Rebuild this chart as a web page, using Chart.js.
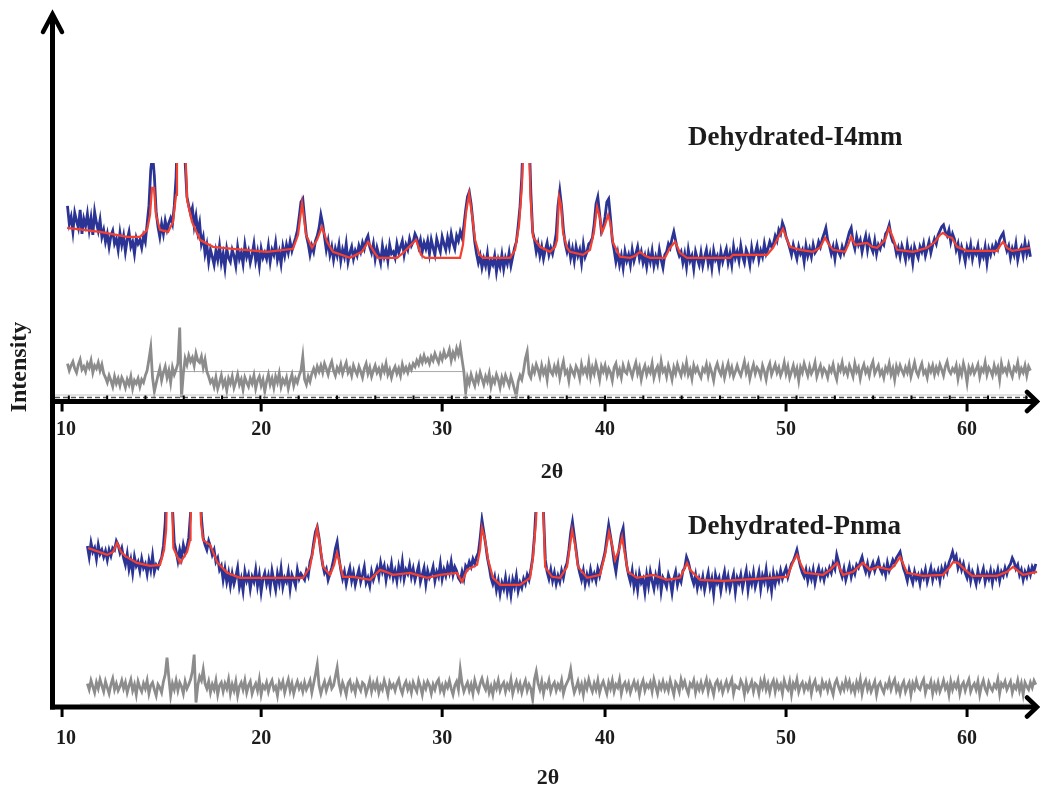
<!DOCTYPE html>
<html>
<head>
<meta charset="utf-8">
<title>Dehydrated I4mm / Pnma refinement</title>
<script src="https://cdn.jsdelivr.net/npm/chart.js@4.4.1/dist/chart.umd.min.js"></script>
<style>
    html, body { margin: 0; padding: 0; background: #fff; }
    #wrap { position: relative; width: 1040px; height: 789px; overflow: hidden; }
    canvas { position: absolute; left: 0; }
    #topChart { top: 0; }
    #bottomChart { top: 490px; }
</style>
</head>
<body>
<div id="wrap">
    <canvas id="topChart" width="1040" height="490"></canvas>
    <canvas id="bottomChart" width="1040" height="299"></canvas>
</div>
<script>
// axis labels (the printed 20 and 30 sit one unit to the right)
const tickValues = [10, 21, 31, 40, 50, 60];
const tickLabels = ["10", "20", "30", "40", "50", "60"];

// scan grid
const stepSize = 0.1;
const i4mmStart = 10.3;
const pnmaStart = 11.4;

// Dehydrated-I4mm : observed, one row per degree
const i4mmObs = [
    196, 178, 185, 170, 189, 181, 174, 192, 168, 183,
    176, 188, 172, 184, 167, 190, 179, 171, 182, 165,
    172, 160, 168, 155, 166, 171, 158, 163, 152, 169,
    157, 166, 150, 162, 170, 155, 160, 148, 164, 158,
    162, 154, 166, 160, 178, 196, 232, 248, 226, 190,
    175, 165, 178, 168, 181, 172, 179, 184, 178, 196,
    225, 290, 345, 350, 300, 240, 205, 196, 188, 194,
    176, 186, 170, 179, 158, 165, 148, 157, 140, 152,
    145, 137, 151, 142, 156, 139, 148, 134, 153, 144,
    140, 152, 146, 136, 155, 143, 149, 138, 157, 145,
    151, 139, 147, 158, 141, 150, 136, 153, 144, 149,
    143, 156, 140, 152, 147, 159, 142, 150, 138, 155,
    146, 157, 149, 160, 151, 158, 164, 171, 185, 200,
    203, 184, 166, 158, 147, 156, 150, 161, 166, 174,
    187, 178, 165, 152, 161, 147, 155, 142, 153, 146,
    157, 141, 152, 145, 158, 140, 149, 155, 143, 151,
    146, 156, 150, 159, 153, 162, 166, 155, 149, 158,
    143, 154, 147, 139, 156, 145, 152, 141, 157, 148,
    150, 144, 158, 149, 155, 161, 147, 157, 152, 163,
    156, 160, 168, 164, 155, 162, 150, 159, 153, 161,
    148, 162, 154, 147, 163, 156, 150, 165, 158, 152,
    164, 155, 168, 159, 153, 166, 161, 170, 164, 176,
    192, 205, 210, 198, 180, 160, 148, 139, 146, 134,
    143, 136, 148, 131, 141, 137, 146, 130, 142, 135,
    147, 133, 144, 138, 149, 136, 145, 154, 160, 176,
    195, 225, 280, 330, 350, 270, 210, 170, 162, 150,
    158, 146, 155, 143, 152, 159, 147, 154, 148, 157,
    168, 196, 211, 195, 172, 158, 150, 157, 144, 153,
    141, 155, 146, 152, 139, 157, 145, 150, 158, 160,
    164, 178, 198, 205, 188, 170, 174, 185, 200, 203,
    184, 162, 152, 140, 149, 137, 146, 134, 150, 141,
    147, 137, 152, 141, 148, 155, 143, 150, 139, 146,
    135, 148, 140, 151, 136, 145, 138, 152, 142, 134,
    147, 150, 158, 154, 163, 170, 161, 152, 146, 150,
    139, 148, 135, 152, 141, 146, 133, 150, 143, 137,
    149, 136, 145, 152, 138, 147, 134, 151, 142, 146,
    135, 150, 140, 147, 153, 139, 148, 137, 155, 144,
    150, 141, 156, 145, 139, 152, 147, 137, 154, 143,
    149, 156, 142, 151, 145, 158, 148, 153, 160, 155,
    158, 166, 161, 172, 168, 179, 174, 165, 160, 154,
    147, 157, 150, 143, 155, 148, 152, 140, 156, 146,
    153, 145, 157, 149, 152, 160, 155, 163, 168, 174,
    162, 156, 148, 155, 143, 157, 150, 146, 155, 149,
    156, 163, 170, 174, 160, 153, 165, 157, 162, 150,
    159, 166, 152, 163, 155, 150, 161, 148, 157, 153,
    160, 157, 168, 171, 177, 166, 160, 158, 148, 154,
    145, 156, 150, 142, 157, 146, 152, 139, 155, 149,
    144, 155, 150, 158, 146, 153, 160, 149, 157, 163,
    158, 167, 171, 175, 177, 170, 166, 172, 160, 168,
    163, 152, 158, 145, 155, 149, 140, 154, 147, 157,
    143, 152, 148, 156, 141, 150, 145, 155, 139, 153,
    147, 155, 150, 158, 153, 162, 166, 169, 158, 151,
    156, 144, 153, 147, 158, 142, 151, 155, 146, 159,
    148, 156, 145
];

// Dehydrated-I4mm : difference (offset below the pattern)
const i4mmDiff = [
    38, 31, 36, 40, 33, 29, 37, 42, 32, 35,
    30, 38, 34, 41, 29, 36, 33, 39, 31, 37,
    28, 24, 19, 26, 21, 15, 25, 18, 23, 16,
    24, 20, 14, 22, 17, 25, 13, 21, 18, 23,
    15, 22, 19, 26, 31, 42, 54, 24, 10, 18,
    26, 33, 21, 29, 35, 24, 31, 19, 34, 27,
    32, 38, 74, 4, 28, 43, 37, 46, 40, 44,
    36, 48, 41, 39, 45, 34, 42, 30, 25, 19,
    22, 15, 24, 13, 19, 26, 16, 21, 11, 23,
    18, 25, 14, 20, 27, 17, 22, 12, 24, 19,
    15, 23, 18, 26, 13, 21, 25, 16, 22, 10,
    20, 27, 17, 23, 14, 25, 19, 28, 15, 22,
    18, 24, 13, 21, 27, 16, 23, 19, 26, 31,
    45, 22, 17, 25, 20, 28, 33, 27, 35, 30,
    36, 29, 38, 33, 27, 35, 40, 31, 26, 34,
    30, 37, 28, 34, 39, 29, 33, 26, 36, 31,
    27, 35, 30, 24, 33, 38, 28, 34, 25, 31,
    36, 29, 33, 26, 35, 30, 38, 27, 32, 24,
    31, 35, 28, 33, 26, 37, 30, 34, 29, 36,
    32, 38, 35, 41, 37, 44, 39, 46, 40, 43,
    38, 45, 41, 48, 43, 39, 47, 42, 50, 44,
    46, 52, 41, 49, 44, 53, 47, 55, 42, 30,
    9, 24, 18, 27, 21, 16, 26, 20, 29, 23,
    17, 25, 20, 28, 15, 23, 19, 27, 22, 14,
    24, 18, 26, 21, 16, 25, 19, 12, 5, 20,
    26, 22, 31, 43, 50, 28, 24, 34, 29, 37,
    32, 25, 36, 28, 33, 22, 38, 30, 27, 35,
    29, 37, 24, 33, 40, 28, 31, 21, 34, 30,
    26, 35, 31, 23, 37, 29, 33, 27, 39, 25,
    34, 28, 38, 31, 22, 35, 30, 36, 26, 33,
    29, 21, 34, 38, 27, 32, 24, 36, 30, 28,
    37, 31, 25, 33, 39, 28, 34, 22, 31, 36,
    27, 33, 29, 38, 24, 31, 35, 26, 40, 30,
    33, 25, 36, 30, 22, 34, 28, 37, 31, 26,
    35, 29, 39, 27, 32, 23, 36, 30, 34, 28,
    24, 33, 30, 37, 26, 35, 29, 21, 33, 38,
    31, 27, 35, 24, 32, 38, 28, 34, 25, 30,
    36, 30, 26, 33, 40, 29, 35, 23, 31, 37,
    28, 34, 31, 25, 36, 30, 22, 33, 38, 27,
    32, 37, 29, 34, 26, 31, 39, 28, 35, 24,
    30, 36, 27, 33, 21, 34, 29, 38, 32, 26,
    35, 28, 32, 39, 25, 31, 36, 27, 33, 30,
    24, 34, 30, 37, 28, 22, 35, 31, 39, 29,
    33, 27, 36, 31, 25, 38, 30, 34, 23, 32,
    37, 29, 33, 26, 35, 40, 28, 32, 36, 27,
    31, 24, 34, 30, 38, 27, 33, 22, 35, 29,
    36, 31, 27, 34, 29, 37, 25, 32, 39, 30,
    26, 33, 38, 28, 31, 24, 35, 30, 36, 27,
    34, 29, 37, 32, 26, 35, 40, 31, 28, 33,
    30, 36, 23, 33, 27, 38, 31, 19, 34, 29,
    35, 28, 32, 37, 25, 33, 30, 39, 27, 34,
    31, 26, 36, 29, 34, 22, 38, 30, 33, 28,
    37, 30, 25, 34, 31, 39, 27, 33, 29, 36,
    26, 35, 31
];

// Dehydrated-I4mm : calculated profile
const i4mmCalc2T = [
    10.28, 12.10, 13.59, 14.31, 14.70, 14.86, 14.97, 15.08, 15.19, 15.41,
    15.86, 16.13, 16.30, 16.35, 16.57, 16.80, 16.91, 17.18, 17.62, 18.34,
    19.45, 21.33, 22.76, 23.04, 23.26, 23.48, 23.81, 24.09, 24.36, 24.64,
    24.97, 25.75, 25.91, 26.57, 26.91, 27.24, 27.46, 28.51, 28.84, 29.23,
    29.56, 29.83, 30.06, 31.99, 32.15, 32.32, 32.49, 32.65, 32.82, 33.04,
    33.26, 34.75, 35.03, 35.25, 35.41, 35.47, 35.66, 35.80, 35.88, 36.02,
    36.41, 36.96, 37.24, 37.35, 37.46, 37.57, 37.68, 37.90, 38.07, 38.78,
    39.17, 39.39, 39.56, 39.72, 39.83, 40.00, 40.17, 40.28, 40.44, 40.83,
    41.38, 41.66, 41.93, 42.21, 42.49, 43.31, 43.59, 43.87, 44.14, 44.53,
    46.91, 47.07, 48.95, 49.28, 49.56, 49.83, 50.06, 50.22, 50.77, 51.49,
    51.88, 52.15, 52.38, 52.60, 53.26, 53.43, 53.60, 53.81, 54.09, 54.48,
    54.75, 55.03, 55.47, 55.69, 55.91, 56.13, 57.02, 57.79, 58.23, 58.51,
    58.67, 58.95, 59.17, 59.45, 60.00, 61.66, 61.82, 61.99, 62.21, 62.49,
    63.48
];
const i4mmCalc = [
    174, 170, 165, 165, 172, 187, 214, 214, 187, 172,
    170, 180, 207, 260, 330, 260, 202, 180, 162, 155,
    153, 150, 153, 167, 199, 167, 154, 162, 175, 160,
    150, 145, 144, 150, 160, 150, 144, 144, 149, 156,
    162, 147, 144, 144, 157, 189, 208, 187, 162, 148,
    144, 144, 152, 177, 217, 250, 320, 260, 205, 165,
    155, 150, 155, 162, 205, 197, 169, 154, 150, 147,
    152, 170, 195, 184, 169, 177, 187, 180, 159, 145,
    144, 146, 150, 146, 144, 144, 154, 160, 149, 144,
    144, 147, 147, 154, 164, 173, 162, 155, 152, 150,
    154, 164, 157, 152, 150, 157, 165, 157, 158, 159,
    155, 154, 162, 174, 164, 152, 150, 154, 160, 167,
    169, 165, 164, 155, 151, 151, 156, 160, 154, 151,
    154
];

// Dehydrated-Pnma : observed, one row per degree
const pnmaObs = [
    162, 151, 165, 156, 160, 149, 163, 154, 158, 151,
    157, 148, 158, 152, 160, 158, 167, 163, 155, 160,
    150, 143, 154, 139, 148, 135, 151, 142, 146, 137,
    149, 140, 144, 134, 147, 138, 152, 136, 143, 140,
    146, 150, 162, 185, 240, 290, 270, 200, 165, 157,
    147, 158, 150, 163, 155, 161, 170, 195, 270, 330,
    340, 310, 250, 190, 170, 163, 158, 167, 161, 153,
    158, 146, 150, 138, 142, 128, 139, 126, 135, 122,
    134, 124, 131, 140, 121, 129, 117, 136, 127, 133,
    119, 131, 126, 138, 122, 133, 116, 129, 135, 124,
    132, 120, 137, 127, 118, 134, 125, 139, 121, 130,
    126, 136, 119, 133, 128, 122, 138, 129, 134, 131,
    128, 137, 132, 146, 152, 165, 176, 181, 170, 155,
    143, 135, 139, 128, 134, 140, 148, 159, 166, 150,
    138, 129, 136, 124, 133, 140, 127, 135, 123, 131,
    138, 126, 133, 141, 125, 130, 122, 136, 128, 134,
    140, 131, 145, 136, 142, 128, 139, 133, 144, 130,
    137, 127, 141, 132, 146, 129, 138, 134, 143, 131,
    139, 128, 135, 142, 126, 133, 140, 124, 137, 130,
    134, 141, 127, 136, 131, 144, 129, 138, 132, 142,
    135, 146, 133, 141, 137, 130, 127, 136, 129, 142,
    139, 146, 141, 149, 144, 151, 155, 170, 188, 176,
    164, 150, 141, 130, 124, 131, 118, 127, 114, 125,
    119, 130, 116, 126, 113, 128, 121, 132, 117, 125,
    120, 129, 124, 133, 128, 138, 150, 172, 205, 270,
    330, 280, 195, 148, 136, 129, 138, 127, 135, 124,
    132, 126, 137, 130, 140, 145, 158, 175, 186, 172,
    158, 143, 135, 128, 137, 124, 133, 126, 138, 129,
    134, 127, 139, 132, 141, 148, 156, 170, 183, 172,
    160, 146, 136, 150, 162, 174, 180, 158, 142, 133,
    126, 137, 121, 131, 118, 134, 125, 129, 116, 133,
    122, 136, 127, 119, 132, 124, 138, 117, 130, 126,
    121, 133, 127, 115, 129, 136, 123, 131, 126, 137,
    140, 151, 146, 138, 130, 124, 133, 120, 129, 122,
    131, 118, 127, 135, 121, 129, 114, 133, 125, 130,
    117, 128, 136, 122, 131, 119, 127, 134, 116, 130,
    125, 133, 120, 129, 137, 118, 131, 124, 135, 121,
    128, 136, 119, 132, 126, 138, 122, 130, 117, 134,
    124, 133, 127, 137, 129, 135, 140, 131, 138, 144,
    147, 152, 158, 149, 141, 135, 131, 138, 127, 136,
    129, 138, 125, 134, 140, 130, 136, 128, 137, 133,
    140, 135, 144, 139, 153, 146, 137, 131, 139, 128,
    135, 142, 131, 139, 134, 143, 140, 146, 151, 142,
    136, 144, 134, 140, 145, 137, 143, 148, 139, 135,
    141, 133, 145, 137, 142, 148, 144, 150, 153, 156,
    147, 139, 134, 127, 138, 131, 125, 136, 129, 133,
    124, 135, 130, 138, 126, 133, 140, 128, 136, 131,
    137, 127, 139, 133, 142, 136, 145, 150, 156, 148,
    152, 140, 146, 138, 144, 135, 130, 139, 127, 136,
    131, 124, 137, 128, 133, 139, 126, 134, 129, 137,
    125, 135, 130, 138, 127, 136, 132, 140, 134, 141,
    144, 150, 146, 139, 143, 133, 138, 128, 136, 131,
    139, 133, 141, 137, 144
];

// Dehydrated-Pnma : difference
const pnmaDiff = [
    24, 18, 27, 21, 15, 25, 19, 28, 22, 16,
    26, 20, 14, 23, 29, 18, 24, 17, 21, 27,
    19, 25, 15, 22, 28, 17, 23, 13, 26, 20,
    16, 24, 19, 27, 14, 22, 25, 18, 12, 23,
    20, 15, 26, 33, 50, 30, 12, 24, 18, 27,
    17, 25, 21, 14, 26, 19, 23, 28, 36, 53,
    5, 22, 31, 27, 38, 24, 19, 26, 15, 23,
    18, 27, 13, 22, 25, 16, 24, 19, 28, 14,
    23, 17, 26, 12, 21, 25, 18, 27, 15, 22,
    26, 14, 20, 24, 17, 28, 13, 22, 19, 25,
    16, 23, 27, 18, 21, 12, 25, 20, 26, 15,
    22, 28, 17, 24, 14, 21, 26, 19, 23, 16,
    25, 18, 22, 27, 15, 24, 33, 43, 22, 14,
    21, 26, 17, 23, 28, 19, 22, 31, 40, 24,
    16, 25, 20, 13, 24, 27, 18, 22, 15, 26,
    21, 17, 25, 23, 14, 20, 27, 16, 24, 19,
    26, 15, 22, 18, 27, 21, 13, 25, 20, 23,
    17, 24, 28, 19, 14, 22, 26, 18, 23, 15,
    25, 20, 16, 27, 21, 13, 24, 19, 26, 22,
    14, 23, 18, 25, 28, 17, 22, 15, 24, 20,
    27, 19, 13, 22, 26, 18, 38, 24, 16, 21,
    25, 17, 23, 14, 27, 20, 16, 24, 29, 22,
    18, 26, 15, 21, 13, 24, 19, 27, 17, 22,
    25, 16, 23, 19, 28, 14, 21, 26, 18, 24,
    15, 22, 27, 17, 23, 19, 8, 28, 36, 24,
    18, 26, 14, 23, 20, 27, 16, 22, 25, 17,
    23, 19, 27, 14, 21, 25, 29, 38, 24, 15,
    20, 26, 17, 23, 13, 25, 19, 28, 21, 16,
    24, 18, 27, 15, 22, 26, 20, 14, 25, 19,
    27, 16, 23, 20, 28, 14, 22, 25, 18, 24,
    15, 21, 26, 19, 24, 13, 22, 27, 17, 23,
    20, 25, 16, 28, 21, 14, 24, 19, 26, 18,
    23, 17, 27, 20, 13, 25, 22, 16, 28, 21,
    26, 19, 14, 24, 21, 27, 15, 23, 18, 25,
    17, 22, 28, 16, 25, 20, 13, 24, 27, 19,
    24, 15, 21, 26, 18, 23, 28, 14, 22, 20,
    19, 27, 23, 13, 25, 17, 21, 26, 16, 24,
    22, 14, 26, 20, 28, 18, 24, 15, 23, 27,
    16, 25, 19, 23, 14, 27, 21, 18, 26, 13,
    24, 20, 28, 16, 22, 25, 17, 23, 19, 26,
    14, 23, 27, 18, 21, 15, 26, 20, 24, 17,
    25, 19, 13, 24, 28, 21, 16, 23, 18, 27,
    20, 26, 17, 22, 15, 25, 19, 28, 14, 23,
    27, 18, 24, 16, 21, 26, 13, 22, 25, 19,
    15, 23, 20, 27, 18, 24, 28, 17, 22, 14,
    22, 26, 16, 21, 25, 13, 24, 19, 27, 20,
    18, 24, 28, 15, 22, 20, 26, 14, 23, 17,
    25, 16, 21, 27, 19, 23, 13, 26, 18, 24,
    20, 27, 14, 22, 25, 17, 23, 28, 16, 21,
    24, 18, 26, 13, 22, 27, 19, 15, 25, 20,
    17, 23, 20, 28, 14, 24, 21, 26, 18, 22,
    26, 15, 22, 19, 27, 17, 24, 13, 25, 21,
    18, 25, 20, 27, 23
];

// Dehydrated-Pnma : calculated profile
const pnmaCalc2T = [
    11.44, 12.49, 12.82, 13.04, 13.26, 13.48, 14.14, 14.86, 15.41, 15.64,
    15.75, 15.82, 15.92, 16.04, 16.15, 16.52, 16.91, 17.07, 17.10, 17.20,
    17.40, 17.58, 17.68, 17.79, 18.01, 18.18, 18.34, 18.56, 19.12, 19.83,
    23.31, 23.70, 23.92, 24.09, 24.25, 24.42, 24.81, 25.03, 25.19, 25.36,
    25.52, 26.08, 27.02, 27.57, 27.90, 28.29, 29.23, 30.17, 30.88, 31.82,
    32.10, 32.38, 32.93, 33.09, 33.20, 33.37, 33.54, 33.81, 34.20, 35.30,
    35.86, 36.02, 36.19, 36.25, 36.42, 36.55, 36.69, 37.07, 37.51, 37.90,
    38.07, 38.18, 38.34, 38.51, 39.01, 39.72, 40.00, 40.22, 40.39, 40.55,
    40.77, 40.94, 41.10, 41.27, 41.77, 42.65, 43.43, 44.14, 44.36, 44.53,
    44.70, 45.25, 46.52, 48.40, 50.06, 50.39, 50.61, 50.83, 51.05, 52.04,
    52.43, 52.82, 53.15, 53.70, 54.25, 54.64, 55.08, 55.75, 56.02, 56.30,
    56.69, 57.57, 58.67, 59.06, 59.23, 59.50, 59.78, 60.28, 61.66, 62.21,
    62.54, 63.09, 63.87
];
const pnmaCalc = [
    160, 153, 156, 165, 156, 152, 145, 142, 143, 158,
    178, 230, 250, 230, 160, 145, 156, 168, 185, 240,
    320, 240, 185, 168, 165, 163, 156, 146, 135, 130,
    130, 141, 163, 180, 163, 141, 133, 143, 155, 143,
    131, 131, 128, 138, 136, 133, 135, 130, 133, 135,
    126, 138, 143, 158, 180, 168, 148, 130, 123, 123,
    130, 151, 188, 220, 300, 220, 141, 131, 130, 141,
    163, 178, 163, 141, 130, 133, 153, 176, 163, 148,
    158, 171, 153, 136, 130, 133, 128, 130, 138, 145,
    138, 128, 127, 129, 131, 146, 153, 143, 135, 133,
    138, 145, 133, 136, 145, 138, 141, 138, 143, 151,
    135, 132, 133, 141, 146, 145, 140, 132, 132, 136,
    141, 133, 136
];

// small helpers to turn the arrays into {x, y} points
function gridPoints(start, values) {
    return values.map((v, i) => ({ x: +(start + i * stepSize).toFixed(2), y: v }));
}
function pairPoints(xs, ys) {
    return xs.map((x, i) => ({ x: x, y: ys[i] }));
}

const BLUE = "#2b3494";
const RED = "#f4412f";
const GRAY = "#8c8c8c";
const INK = "#1c1c1c";
const SERIF = "'Liberation Serif', 'Times New Roman', serif";

function drawChevron(ctx, pts) {
    ctx.beginPath();
    ctx.moveTo(pts[0][0], pts[0][1]);
    ctx.lineTo(pts[1][0], pts[1][1]);
    ctx.lineTo(pts[2][0], pts[2][1]);
    ctx.stroke();
}

// axes, arrows and texts for one panel
function axesPlugin(cfg) {
    return {
        id: "panelAxes",
        afterDraw(chart) {
            const ctx = chart.ctx;
            const xs = chart.scales.x;
            ctx.save();
            ctx.lineCap = "butt";

            // reference lines just above the axis
            if (cfg.dashedY) {
                ctx.strokeStyle = "#c4c4c4";
                ctx.lineWidth = 1;
                ctx.beginPath();
                ctx.moveTo(55, cfg.dashedY - 2.5);
                ctx.lineTo(1030, cfg.dashedY - 2.5);
                ctx.stroke();
                ctx.strokeStyle = "#555";
                ctx.lineWidth = 1.5;
                ctx.setLineDash([5, 3]);
                ctx.beginPath();
                ctx.moveTo(55, cfg.dashedY);
                ctx.lineTo(1032, cfg.dashedY);
                ctx.stroke();
                ctx.setLineDash([]);
            }
            if (cfg.thinLineY) {
                ctx.strokeStyle = "#c8c8c8";
                ctx.lineWidth = 1;
                ctx.beginPath();
                ctx.moveTo(80, cfg.thinLineY);
                ctx.lineTo(1032, cfg.thinLineY);
                ctx.stroke();
            }

            ctx.strokeStyle = "#000";
            // vertical intensity axis
            ctx.lineWidth = 5;
            ctx.beginPath();
            ctx.moveTo(52.5, cfg.yTop);
            ctx.lineTo(52.5, cfg.yBottom);
            ctx.stroke();
            if (cfg.topArrow) {
                ctx.lineWidth = 4.5;
                ctx.lineCap = "round";
                drawChevron(ctx, [[43, 32], [52.5, 14], [62, 32]]);
                ctx.lineCap = "butt";
            }

            // horizontal 2θ axis
            const ay = cfg.axisY;
            ctx.lineWidth = 5;
            ctx.beginPath();
            ctx.moveTo(50, ay);
            ctx.lineTo(1036, ay);
            ctx.stroke();
            ctx.lineWidth = 4.5;
            ctx.lineCap = "round";
            drawChevron(ctx, [[1027, ay - 9.5], [1037, ay], [1027, ay + 9.5]]);
            ctx.lineCap = "butt";

            // minor ticks (top panel only)
            if (cfg.minorTicks) {
                ctx.lineWidth = 2;
                for (let k = -15; k <= 12; k++) {
                    const px = xs.getPixelForValue(40 + k * 2.116);
                    if (px < 60 || px > 1028) continue;
                    ctx.beginPath();
                    ctx.moveTo(px, ay - 2);
                    ctx.lineTo(px, ay - 6);
                    ctx.stroke();
                }
            }

            // major ticks and labels
            ctx.lineWidth = 3;
            ctx.fillStyle = INK;
            ctx.font = "bold 20px " + SERIF;
            ctx.textAlign = "center";
            ctx.textBaseline = "middle";
            tickValues.forEach((v, i) => {
                const px = xs.getPixelForValue(v);
                ctx.beginPath();
                ctx.moveTo(px, ay + 2);
                ctx.lineTo(px, ay + 10);
                ctx.stroke();
                // first label is nudged clear of the vertical axis
                ctx.fillText(tickLabels[i], i === 0 ? px + 4 : px, cfg.labelY);
            });

            ctx.font = "bold 22px " + SERIF;
            ctx.fillText("2θ", cfg.titleX, cfg.titleY);

            // phase name
            ctx.font = "bold 27px " + SERIF;
            ctx.textAlign = "left";
            ctx.fillText(cfg.name, 688, cfg.nameY);

            if (cfg.yTitle) {
                ctx.save();
                ctx.translate(20, 367);
                ctx.rotate(-Math.PI / 2);
                ctx.textAlign = "center";
                ctx.font = "bold 24px " + SERIF;
                ctx.fillText("Intensity", 0, 0);
                ctx.restore();
            }
            ctx.restore();
        }
    };
}

function makePanel(canvasId, panel) {
    const datasets = [
        { data: pairPoints(panel.calc2T, panel.calc), borderColor: RED, borderWidth: 2.2, order: 0 },
        { data: gridPoints(panel.start, panel.obs), borderColor: BLUE, borderWidth: 2.8, order: 1 },
        { data: gridPoints(panel.start, panel.diff), borderColor: GRAY, borderWidth: 2.8, order: 2 }
    ];
    if (panel.zeroLine) {
        datasets.push({ data: panel.zeroLine, borderColor: "#a8a8a8", borderWidth: 1, order: 3 });
    }
    datasets.forEach(d => { d.clip = 0; d.pointRadius = 0; d.tension = 0; d.fill = false; });

    return new Chart(document.getElementById(canvasId).getContext("2d"), {
        type: "line",
        data: { datasets },
        options: {
            responsive: false,
            animation: false,
            devicePixelRatio: 1,
            layout: { padding: panel.padding },
            plugins: { legend: { display: false }, tooltip: { enabled: false } },
            scales: {
                x: { type: "linear", min: 9.5, max: 63.9, display: false },
                y: { type: "linear", min: 0, max: panel.yMax, display: false }
            }
        },
        plugins: [axesPlugin(panel.axes)]
    });
}

makePanel("topChart", {
    start: i4mmStart, obs: i4mmObs, diff: i4mmDiff, calc2T: i4mmCalc2T, calc: i4mmCalc,
    zeroLine: [{ x: 14.9, y: 30 }, { x: 32.2, y: 30 }],
    yMax: 239,
    padding: { left: 53, right: 2.36, top: 163, bottom: 88.5 },
    axes: {
        yTop: 16, yBottom: 490, topArrow: true, axisY: 401.5,
        dashedY: 397.5, minorTicks: true, labelY: 430,
        titleX: 552, titleY: 472, name: "Dehydrated-I4mm", nameY: 138, yTitle: true
    }
});

makePanel("bottomChart", {
    start: pnmaStart, obs: pnmaObs, diff: pnmaDiff, calc2T: pnmaCalc2T, calc: pnmaCalc,
    yMax: 196,
    padding: { left: 53, right: 2.36, top: 22, bottom: 81.5 },
    axes: {
        yTop: 0, yBottom: 219.5, topArrow: false, axisY: 217,
        thinLineY: 214, minorTicks: false, labelY: 249,
        titleX: 548, titleY: 288, name: "Dehydrated-Pnma", nameY: 37, yTitle: false
    }
});
</script>
</body>
</html>
